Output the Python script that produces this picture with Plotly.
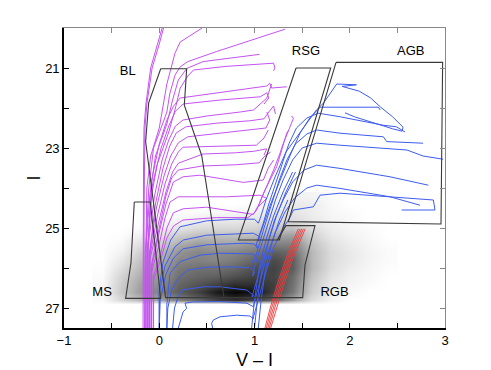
import plotly.graph_objects as go

# ---------------- density map (grey smear) ----------------
dens_x = [-0.6, -0.4, -0.2, 0.0, 0.2, 0.4, 0.6, 0.8, 1.0, 1.2, 1.4, 1.6, 1.8, 2.0, 2.2, 2.4]
dens_I = [24.2, 24.4, 24.6, 24.8, 25.0, 25.2, 25.4, 25.6, 25.8, 26.0, 26.2, 26.4, 26.6, 26.8, 26.9]
dens_z = [
    [0, 0, 0, 0, 0, 0, 0, 0, 0, 0.02, 0.06, 0.05, 0.02, 0, 0, 0],
    [0, 0, 0, 0, 0, 0, 0, 0, 0.02, 0.05, 0.10, 0.08, 0.03, 0, 0, 0],
    [0, 0, 0, 0, 0, 0.02, 0.03, 0.04, 0.06, 0.10, 0.12, 0.08, 0.04, 0.02, 0, 0],
    [0, 0, 0, 0.02, 0.05, 0.08, 0.10, 0.10, 0.12, 0.15, 0.16, 0.10, 0.05, 0.03, 0, 0],
    [0, 0, 0.02, 0.06, 0.12, 0.16, 0.18, 0.18, 0.20, 0.25, 0.28, 0.15, 0.08, 0.04, 0.02, 0],
    [0, 0.01, 0.08, 0.14, 0.24, 0.30, 0.30, 0.30, 0.32, 0.40, 0.42, 0.22, 0.10, 0.06, 0.03, 0],
    [0, 0.03, 0.15, 0.22, 0.36, 0.42, 0.40, 0.40, 0.45, 0.52, 0.52, 0.28, 0.14, 0.08, 0.04, 0.01],
    [0, 0.06, 0.22, 0.30, 0.45, 0.50, 0.48, 0.50, 0.55, 0.65, 0.60, 0.32, 0.16, 0.10, 0.05, 0.02],
    [0, 0.10, 0.28, 0.35, 0.50, 0.52, 0.50, 0.55, 0.62, 0.72, 0.65, 0.32, 0.16, 0.10, 0.05, 0.02],
    [0.01, 0.15, 0.32, 0.40, 0.55, 0.58, 0.58, 0.62, 0.70, 0.75, 0.65, 0.32, 0.15, 0.08, 0.04, 0.01],
    [0.02, 0.20, 0.36, 0.44, 0.58, 0.62, 0.64, 0.70, 0.75, 0.74, 0.60, 0.28, 0.12, 0.06, 0.03, 0],
    [0.03, 0.23, 0.40, 0.48, 0.62, 0.68, 0.75, 0.82, 0.82, 0.76, 0.58, 0.25, 0.10, 0.05, 0.02, 0],
    [0.03, 0.25, 0.42, 0.52, 0.65, 0.75, 0.90, 0.97, 0.92, 0.76, 0.55, 0.22, 0.08, 0.03, 0, 0],
    [0.02, 0.18, 0.32, 0.40, 0.52, 0.62, 0.75, 0.82, 0.75, 0.62, 0.40, 0.15, 0.05, 0, 0, 0],
    [0, 0, 0, 0, 0, 0, 0, 0, 0, 0, 0, 0, 0, 0, 0, 0],
]

# ---------------- young isochrones (magenta), (V-I, I) ----------------
m01 = [(-0.17, 27.5), (-0.17, 25.0), (-0.165, 23.5), (-0.16, 22.5), (-0.14, 21.9), (-0.09, 21.0), (-0.02, 20.4), (0.03, 20.0)]
m02 = [(-0.155, 27.5), (-0.16, 25.0), (-0.155, 23.5), (-0.15, 22.5), (-0.13, 21.9), (-0.075, 21.0), (0.0, 20.4), (0.045, 20.0)]
m03 = [(-0.14, 27.5), (-0.14, 25.5), (-0.13, 24.0), (-0.09, 23.2), (0.0, 22.5), (0.04, 22.0), (0.08, 21.4), (0.165, 20.63), (0.22, 20.35), (0.45, 20.0)]
m04 = [(-0.14, 27.5), (-0.14, 25.5), (-0.11, 24.0), (-0.06, 23.0), (0.05, 22.3), (0.08, 22.1), (0.11, 21.65), (0.165, 21.18), (0.22, 20.97), (0.3, 20.84), (0.6, 20.59), (1.06, 20.22), (1.32, 20.03)]
m05 = [(-0.14, 27.5), (-0.14, 25.5), (-0.10, 24.2), (-0.04, 23.2), (0.08, 22.4), (0.14, 21.8), (0.2, 21.3), (0.29, 21.01), (0.46, 20.84), (1.05, 20.66)]
m06 = [(-0.12, 27.5), (-0.12, 25.5), (-0.09, 24.3), (-0.02, 23.4), (0.1, 22.6), (0.17, 22.0), (0.22, 21.5), (0.3, 21.2), (0.36, 21.05), (0.7, 20.96), (1.2, 20.88), (1.215, 21.0), (1.2, 21.07)]
m07 = [(-0.12, 27.5), (-0.12, 25.5), (-0.08, 23.8), (0.0, 22.9), (0.08, 22.3), (0.15, 21.95), (0.22, 21.75), (0.53, 21.65), (0.9, 21.52), (1.13, 21.45), (1.16, 21.38), (1.18, 21.5), (1.34, 21.47)]
m08 = [(-0.12, 27.5), (-0.12, 25.5), (-0.07, 23.9), (0.02, 23.0), (0.1, 22.45), (0.17, 22.08), (0.25, 21.9), (0.64, 21.8), (1.06, 21.72), (1.13, 21.62), (1.15, 21.75), (1.1, 21.9)]
m09 = [(-0.12, 27.5), (-0.12, 25.5), (-0.05, 24.2), (0.03, 23.3), (0.1, 22.8), (0.17, 22.45), (0.25, 22.3), (0.5, 22.2), (0.85, 22.1), (0.99, 22.05), (1.13, 21.75), (1.18, 21.4)]
m10 = [(-0.10, 27.5), (-0.10, 25.6), (-0.04, 24.4), (0.04, 23.5), (0.11, 22.95), (0.18, 22.62), (0.28, 22.47), (0.6, 22.38), (0.95, 22.32), (1.1, 22.27), (1.15, 22.1), (1.2, 21.95), (1.22, 22.15)]
m11 = [(-0.10, 27.5), (-0.10, 25.6), (-0.03, 24.5), (0.05, 23.7), (0.12, 23.2), (0.2, 22.87), (0.3, 22.72), (0.6, 22.64), (1.0, 22.55), (1.12, 22.5), (1.16, 22.3), (1.13, 22.1)]
m12 = [(-0.10, 27.5), (-0.10, 25.7), (-0.02, 24.7), (0.06, 23.9), (0.13, 23.4), (0.2, 23.1), (0.25, 22.98), (0.6, 22.96), (1.02, 22.93), (1.1, 22.75), (1.145, 22.55)]
m13 = [(-0.10, 27.5), (-0.10, 25.8), (-0.01, 24.9), (0.07, 24.1), (0.14, 23.6), (0.2, 23.38), (0.46, 23.15), (0.8, 23.12), (1.0, 23.08), (1.128, 23.02), (1.10, 23.18)]
m14 = [(-0.08, 27.5), (-0.08, 25.9), (0.0, 25.0), (0.07, 24.2), (0.13, 23.75), (0.2, 23.55), (0.45, 23.45), (0.8, 23.42), (1.05, 23.37), (1.1, 23.22), (1.17, 23.1)]
m15 = [(-0.08, 27.5), (-0.08, 26.0), (0.0, 25.1), (0.07, 24.4), (0.148, 23.85), (0.25, 23.72), (0.428, 23.68), (0.883, 23.86), (1.093, 23.8), (1.145, 23.5), (1.2, 23.3)]
m16 = [(-0.08, 27.5), (-0.08, 26.1), (0.0, 25.4), (0.06, 24.75), (0.113, 24.35), (0.2, 24.22), (0.463, 24.22), (0.708, 24.22), (1.058, 24.18), (1.128, 24.26), (1.04, 24.47)]
m17 = [(-0.06, 27.5), (-0.06, 26.2), (0.02, 25.6), (0.08, 25.0), (0.148, 24.62), (0.25, 24.52), (0.498, 24.48), (0.8, 24.58), (0.988, 24.66), (1.05, 24.4), (1.128, 23.97), (1.2, 23.55), (1.268, 23.13), (1.303, 22.88), (1.373, 22.47), (1.408, 22.26), (1.39, 22.2)]
m18 = [(-0.06, 27.5), (-0.06, 26.3), (0.02, 25.75), (0.08, 25.25), (0.15, 24.95), (0.25, 24.8), (0.6, 24.74), (0.93, 24.74), (1.0, 24.62), (1.023, 24.55), (1.1, 24.1), (1.233, 23.47), (1.338, 22.63), (1.36, 22.55)]

# ---------------- intermediate-age isochrones (blue) ----------------
b01 = [(0.0, 27.5), (0.0, 26.5), (0.04, 25.85), (0.12, 25.3), (0.218, 24.97), (0.498, 24.82), (0.8, 24.78), (1.0, 24.78), (1.04, 24.88), (1.06, 24.76), (1.12, 24.3), (1.22, 23.7), (1.33, 23.1), (1.45, 22.7), (1.548, 22.38), (1.65, 22.05), (1.723, 21.88), (1.8, 21.6), (1.863, 21.4), (2.07, 21.42), (1.92, 21.46), (2.1, 21.58), (2.22, 21.75), (2.32, 21.97), (2.45, 22.22), (2.56, 22.48), (2.55, 22.58), (2.45, 22.52), (2.05, 22.22), (1.95, 22.12)]
b02 = [(0.0, 27.5), (0.0, 26.6), (0.06, 25.95), (0.165, 25.47), (0.253, 25.3), (0.498, 25.18), (0.988, 25.13), (1.058, 25.22), (1.03, 25.35), (1.08, 25.0), (1.17, 24.4), (1.27, 23.8), (1.38, 23.15), (1.48, 22.62), (1.58, 22.25), (1.69, 21.98), (2.30, 21.98), (2.32, 22.05)]
b03 = [(0.0, 27.5), (0.01, 26.8), (0.07, 26.15), (0.15, 25.75), (0.25, 25.52), (0.5, 25.42), (0.9, 25.38), (1.0, 25.4), (1.03, 25.5), (1.02, 25.4), (1.09, 24.9), (1.15, 24.4), (1.22, 23.9), (1.29, 23.4), (1.36, 22.9), (1.44, 22.5), (1.55, 22.25), (1.67, 22.13), (1.9, 22.22), (2.35, 22.43), (2.49, 22.47), (2.58, 22.6)]
b04 = [(0.08, 27.5), (0.08, 26.9), (0.113, 26.13), (0.218, 25.84), (0.428, 25.68), (0.638, 25.63), (0.988, 25.65), (1.023, 25.76), (0.97, 25.88), (1.02, 25.65), (1.1, 25.0), (1.18, 24.4), (1.26, 23.8), (1.34, 23.3), (1.43, 22.9), (1.55, 22.65), (1.653, 22.55), (1.898, 22.63), (2.353, 22.72), (2.388, 22.84), (2.6, 22.86), (2.77, 22.88)]
b05 = [(0.08, 27.5), (0.09, 27.0), (0.13, 26.55), (0.2, 26.25), (0.3, 26.05), (0.5, 25.98), (0.75, 25.97), (0.95, 25.99), (1.0, 26.1), (0.98, 26.2), (1.0, 25.97), (1.06, 25.5), (1.14, 24.9), (1.22, 24.3), (1.3, 23.8), (1.4, 23.3), (1.5, 23.0), (1.653, 22.88), (1.898, 22.93), (2.6, 23.05), (2.77, 23.2), (2.98, 23.28)]
b06 = [(0.14, 27.5), (0.16, 27.0), (0.2, 26.7), (0.24, 26.55), (0.463, 26.47), (0.638, 26.47), (0.918, 26.55), (0.988, 26.68), (0.97, 26.75), (1.0, 26.5), (1.06, 26.0), (1.13, 25.4), (1.21, 24.8), (1.3, 24.3), (1.4, 23.85), (1.52, 23.55), (1.653, 23.43), (1.898, 23.51), (2.423, 23.72), (2.825, 23.93)]
b07 = [(0.2, 27.5), (0.25, 27.1), (0.288, 27.01), (0.27, 26.88), (0.35, 26.85), (0.64, 26.84), (0.92, 26.88), (0.99, 26.97), (1.0, 26.84), (1.06, 26.3), (1.13, 25.7), (1.22, 25.1), (1.32, 24.6), (1.42, 24.25), (1.55, 24.0), (1.653, 23.93), (1.898, 24.01), (2.423, 24.22), (2.737, 24.43)]
b08 = [(0.56, 27.5), (0.55, 27.38), (0.568, 27.3), (0.638, 27.22), (0.813, 27.18), (0.95, 27.2), (0.99, 27.27), (0.99, 27.22), (1.05, 26.7), (1.12, 26.1), (1.2, 25.5), (1.3, 25.0), (1.37, 24.75), (1.408, 24.55), (1.618, 24.47), (1.688, 24.18), (1.898, 24.13), (2.423, 24.22), (2.878, 24.3), (2.895, 24.55), (2.545, 24.55)]
b09 = [(0.97, 27.5), (1.0, 26.8), (1.05, 26.0), (1.12, 25.3), (1.2, 24.7), (1.3, 24.1), (1.4, 23.6)]
b10 = [(1.0, 27.5), (1.03, 26.8), (1.08, 26.0), (1.15, 25.3), (1.23, 24.7), (1.33, 24.1), (1.43, 23.6)]
b11 = [(1.04, 27.5), (1.07, 26.8), (1.11, 26.1), (1.18, 25.4), (1.26, 24.8), (1.35, 24.3)]

# ---------------- old isochrones (red) ----------------
r01 = [(1.11, 27.5), (1.165, 27.0), (1.24, 26.4), (1.325, 25.8), (1.40, 25.35), (1.46, 25.02)]
r02 = [(1.125, 27.5), (1.18, 27.0), (1.258, 26.4), (1.343, 25.8), (1.418, 25.35), (1.478, 25.02)]
r03 = [(1.14, 27.5), (1.197, 27.0), (1.275, 26.4), (1.36, 25.8), (1.436, 25.35), (1.496, 25.02)]
r04 = [(1.155, 27.5), (1.213, 27.0), (1.292, 26.4), (1.378, 25.8), (1.454, 25.35), (1.514, 25.02)]
r05 = [(1.17, 27.5), (1.23, 27.0), (1.31, 26.4), (1.396, 25.8), (1.472, 25.35), (1.532, 25.02)]

# ---------------- selection regions ----------------
box_MS = [(-0.262, 24.35), (-0.094, 24.35), (0.015, 26.76), (-0.353, 26.76), (-0.297, 25.88), (-0.262, 24.35)]
box_BL = [(0.015, 21.02), (0.288, 21.02), (0.263, 21.93), (0.445, 23.18), (0.680, 26.74), (0.067, 26.74), (-0.143, 22.84), (-0.111, 21.87), (0.015, 21.02)]
box_RSG = [(1.436, 21.0), (1.80, 21.0), (1.261, 25.3), (0.83, 25.3), (1.436, 21.0)]
box_AGB = [(1.856, 20.86), (2.975, 20.86), (2.958, 24.9), (1.355, 24.84), (1.856, 20.86)]
box_RGB = [(1.24, 25.3), (1.33, 24.94), (1.635, 24.94), (1.53, 25.93), (1.506, 26.74), (0.68, 26.74)]

region_labels = ["BL", "RSG", "AGB", "MS", "RGB"]
label_x = [-0.33, 1.54, 2.64, -0.60, 1.84]
label_I = [21.1, 20.59, 20.59, 26.62, 26.62]

x_tick_vals = [-1, 0, 1, 2, 3]
y_tick_vals = [21, 23, 25, 27]

magenta_tracks = [m01, m02, m03, m04, m05, m06, m07, m08, m09, m10, m11, m12, m13, m14, m15, m16, m17, m18]
blue_tracks = [b01, b02, b03, b04, b05, b06, b07, b08, b09, b10, b11]
red_tracks = [r01, r02, r03, r04, r05]
boxes = [box_MS, box_BL, box_RSG, box_AGB, box_RGB]

fig = go.Figure()

fig.add_trace(go.Heatmap(
    x=dens_x, y=dens_I, z=dens_z, zmin=0, zmax=1, zsmooth="best",
    colorscale=[[0, "#ffffff"], [0.3, "#bdbdbd"], [0.65, "#5e5e5e"], [1, "#000000"]],
    showscale=False, hoverinfo="skip"))


def add_lines(tracks, color, width):
    for t in tracks:
        fig.add_trace(go.Scatter(
            x=[p[0] for p in t], y=[p[1] for p in t], mode="lines",
            line=dict(color=color, width=width), hoverinfo="skip", showlegend=False))


add_lines(magenta_tracks, "#c552f2", 1)
add_lines(blue_tracks, "#3d5cf0", 1)
add_lines(red_tracks, "#ee3b3b", 0.9)
add_lines(boxes, "#3a3a3a", 1.1)

fig.add_trace(go.Scatter(
    x=label_x, y=label_I, mode="text", text=region_labels,
    textfont=dict(family="Liberation Sans, Arial, sans-serif", size=13, color="#000"),
    hoverinfo="skip", showlegend=False))

# empty trace so the grey top/right axes exist
fig.add_trace(go.Scatter(x=[], y=[], xaxis="x2", yaxis="y2", showlegend=False))

axis_font = dict(family="Liberation Sans, Arial, sans-serif", size=13, color="#000")

# the page body adds an 8px offset, so the figure is sized to fit the window
fig.update_layout(
    width=483, height=362,
    margin=dict(l=56, r=46, t=20, b=42, autoexpand=False),
    paper_bgcolor="white", plot_bgcolor="white",
    showlegend=False,
    font=axis_font,
    xaxis=dict(range=[-1, 3], tickvals=x_tick_vals, ticktext=[str(v).replace("-", "\u2212") for v in x_tick_vals],
               ticks="inside", ticklen=5, tickcolor="#000", showline=True, linecolor="#000", linewidth=1.6,
               showgrid=False, zeroline=False, tickfont=axis_font, automargin=False,
               minor=dict(dtick=0.5, tick0=-1, ticks="inside", ticklen=5, tickcolor="#000", showgrid=False),
               title=dict(text="V \u2013 I", font=dict(family="Liberation Sans, Arial, sans-serif", size=18), standoff=6)),
    yaxis=dict(range=[27.5, 20], tickvals=y_tick_vals, ticks="inside", ticklen=5, tickcolor="#000",
               showline=True, linecolor="#000", linewidth=1.6, showgrid=False, zeroline=False, tickfont=axis_font,
               automargin=False,
               minor=dict(dtick=1, tick0=21, ticks="inside", ticklen=5, tickcolor="#000", showgrid=False),
               title=dict(text="I", font=dict(family="Liberation Sans, Arial, sans-serif", size=18), standoff=0)),
    xaxis2=dict(range=[-1, 3], overlaying="x", side="top", anchor="y2", showticklabels=False, automargin=False,
                ticks="inside", ticklen=5, tickcolor="#888", showline=True, linecolor="#888", linewidth=1,
                showgrid=False, zeroline=False, dtick=0.5, tick0=-1),
    yaxis2=dict(range=[27.5, 20], overlaying="y", side="right", anchor="x2", showticklabels=False, automargin=False,
                ticks="inside", ticklen=5, tickcolor="#888", showline=True, linecolor="#888", linewidth=1,
                showgrid=False, zeroline=False, dtick=1, tick0=21),
)

fig.write_html("out.html")
